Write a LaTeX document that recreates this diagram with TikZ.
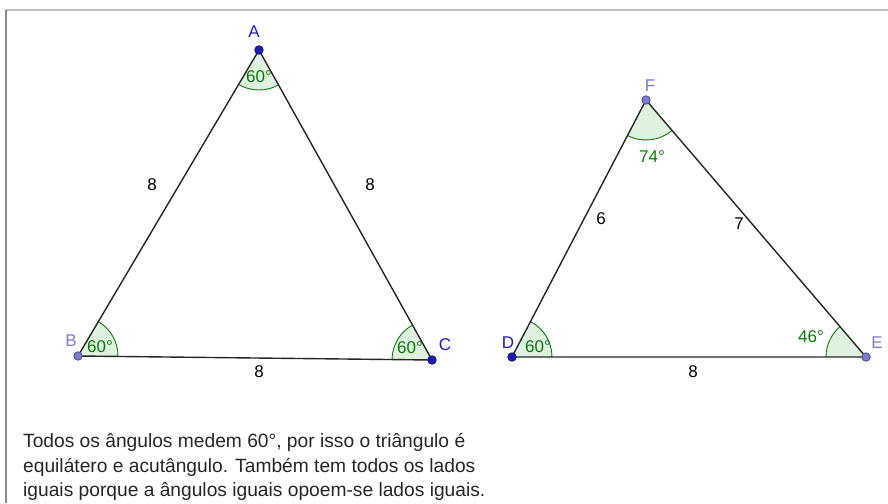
\documentclass[tikz,border=0pt]{standalone}
\usepackage{fontspec}
\setmainfont{Liberation Sans}
\usetikzlibrary{angles}
\definecolor{ptdark}{HTML}{1C1CB4}
\definecolor{ptsoft}{HTML}{7B7BD2}
\definecolor{anggreen}{HTML}{0A7A0A}
\definecolor{angfill}{HTML}{DFF1DF}
\definecolor{framegray}{HTML}{8C8C8C}
\tikzset{
  gside/.style={line width=1.4pt,draw=black!85},
  gangle/.style={draw=anggreen,fill=angfill,line width=0.9pt,angle radius=40pt},
  gdot/.style={circle,inner sep=0pt,minimum size=8.5pt,draw=#1!65!black,fill=#1,line width=0.8pt},
  glab/.style={inner sep=0pt,font=\fontsize{17}{17}\selectfont},
  gdeg/.style={inner sep=0pt,text=anggreen,font=\fontsize{17}{17}\selectfont},
  gnote/.style={inner sep=0pt,anchor=base west,text=black!85,font=\fontsize{19.2}{25}\selectfont}
}

\begin{document}
\begin{tikzpicture}[x=1pt,y=-1pt]
  \useasboundingbox (0,0) rectangle (888,503);
  \draw[framegray!55,line width=1.5pt] (6,10) -- (888,10);
  \draw[framegray,line width=1.5pt] (6,10) -- (6,503);
  % vertices in screen pixels
  \foreach \p/\x/\y in {A/259/50,B/78/356,C/432/360,D/512/357,E/866/357,F/646/100}
    \coordinate (\p) at (\x,\y);
  % angle sectors
  \pic[gangle] {angle=B--A--C};
  \pic[gangle] {angle=C--B--A};
  \pic[gangle] {angle=A--C--B};
  \pic[gangle] {angle=E--D--F};
  \pic[gangle] {angle=F--E--D};
  \pic[gangle] {angle=D--F--E};
  \draw[gside] (A) -- (B) -- (C) -- cycle;
  \draw[gside] (D) -- (E) -- (F) -- cycle;
  % points
  \foreach \p/\c in {A/ptdark,B/ptsoft,C/ptdark,D/ptdark,E/ptsoft,F/ptsoft}
    \node[gdot=\c] (d\p) at (\p) {};
  \node[glab,text=ptdark] (lA) at (254,32) {A};
  \node[glab,text=ptsoft] (lB) at (71,341) {B};
  \node[glab,text=ptdark] (lC) at (445,345) {C};
  \node[glab,text=ptdark] (lD) at (508,343) {D};
  \node[glab,text=ptsoft] (lE) at (877,343) {E};
  \node[glab,text=ptsoft] (lF) at (650,86) {F};
  % side lengths
  \foreach \s/\x/\y/\v in {AB/152/185/8,AC/370/185/8,BC/259/372/8,DF/601/219/6,FE/739/224/7,DE/693/372/8}
    \node[glab] (s\s) at (\x,\y) {\v};
  % angle values
  \foreach \a/\x/\y/\v in {A/259/77/60,B/100/347/60,C/410/348/60,D/538/347/60,E/811/337/46,F/652/157/74}
    \node[gdeg] (g\a) at (\x,\y) {\v°};
  \foreach \i/\y/\t in {1/447/{Todos os ângulos medem 60°, por isso o triângulo é},
      2/472/{equilátero e acutângulo. Também tem todos os lados},
      3/496/{iguais porque a ângulos iguais opoem-se lados iguais.}}
    \node[gnote] (note\i) at (23,\y) {\t};
\end{tikzpicture}
\end{document}
